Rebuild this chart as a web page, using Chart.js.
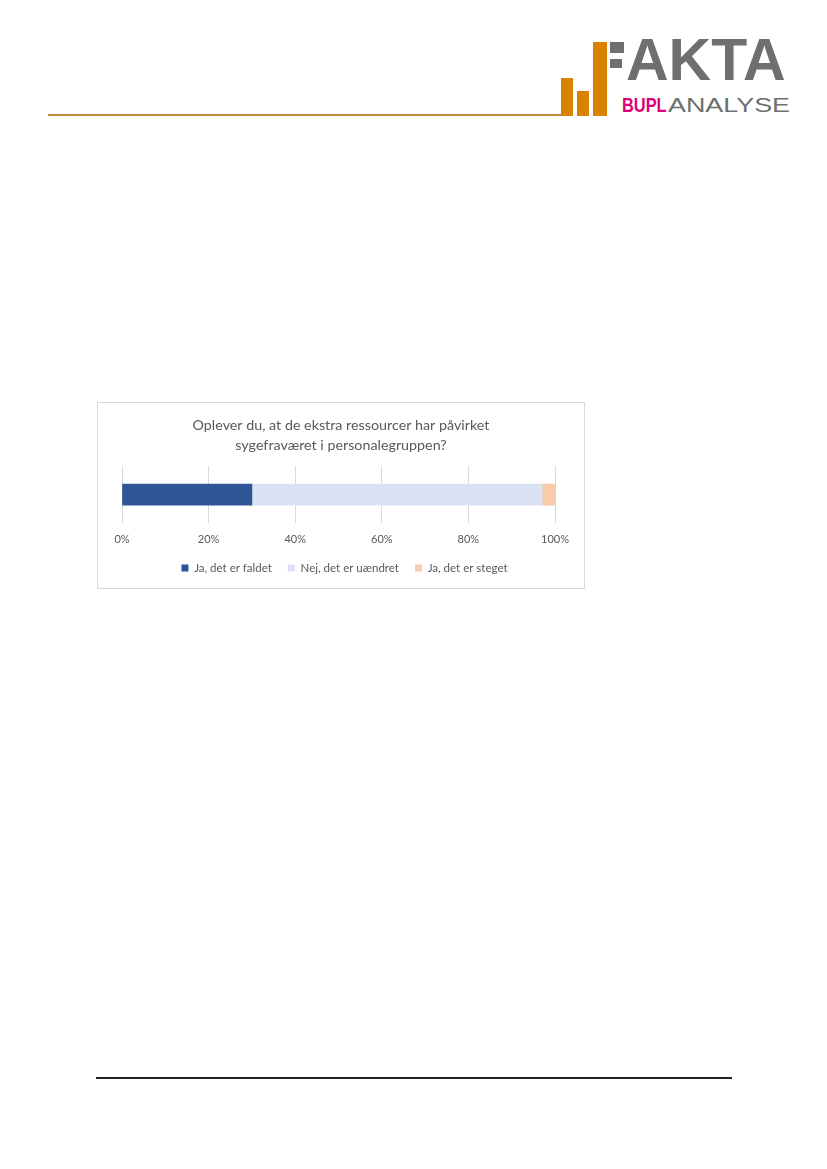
<!DOCTYPE html>
<html>
<head>
<meta charset="utf-8">
<script src="https://cdn.jsdelivr.net/npm/chart.js@4.4.1/dist/chart.umd.min.js"></script>
<style>
  body { margin: 0; background: #fff; width: 827px; height: 1169px; position: relative; overflow: hidden; font-family: "Liberation Sans", Arial, sans-serif; }
  .abs { position: absolute; }
  .bar { position: absolute; background: #d98200; }
  .blk { position: absolute; background: #6f6f6f; }
  #headline { left: 48px; top: 114px; width: 514px; height: 2px; background: #c4893c; }
  #footline { left: 96px; top: 1077px; width: 636px; height: 2px; background: #222; }
  #fakta { left: 626px; top: 31px; font-weight: bold; font-size: 59px; line-height: 1; color: #6f6f6f; }
  #bupl { left: 622px; top: 94px; font-weight: bold; font-size: 21px; line-height: 1; color: #e2007a; transform-origin: 0 0; transform: scaleX(0.78); }
  #analyse { left: 668px; top: 94px; font-size: 21px; line-height: 1; color: #6f6f6f; transform-origin: 0 0; transform: scaleX(1.28); }
  #box { position: absolute; left: 97px; top: 402px; width: 488px; height: 187px; border: 1px solid #d9d9d9; box-sizing: border-box; }
</style>
</head>
<body>
<div id="headline" class="abs"></div>
<div class="bar" style="left:561px;top:78px;width:12px;height:38px"></div>
<div class="bar" style="left:577px;top:91px;width:12px;height:25px"></div>
<div class="bar" style="left:593px;top:42px;width:14px;height:74px"></div>
<div class="blk" style="left:610px;top:42px;width:14px;height:11px"></div>
<div class="blk" style="left:610px;top:59px;width:12px;height:9px"></div>
<div id="fakta" class="abs">AKTA</div>
<div id="bupl" class="abs">BUPL</div>
<div id="analyse" class="abs">ANALYSE</div>

<div id="box"><canvas id="chart" width="486" height="185"></canvas></div>

<div id="footline" class="abs"></div>

<script>
// chart data
const categories = [""];
const seriesNames = ["Ja, det er faldet", "Nej, det er uændret", "Ja, det er steget"];
const faldet = [30];
const uaendret = [67];
const steget = [3];
const xTicks = [0, 20, 40, 60, 80, 100];
const titleLines = ["Oplever du, at de ekstra ressourcer har påvirket", "sygefraværet i personalegruppen?"];

const colors = ["#2f5597", "#dae3f3", "#f8cbad"];
const textColor = "#595959";
const fontFamily = "Lato, 'Liberation Sans', sans-serif";

// nudge title and legend a little to the right, like the Excel original
const nudgePlugin = {
  id: "nudge",
  afterLayout(chart) {
    chart.titleBlock.left += 2.5;
    chart.titleBlock.right += 2.5;
    chart.legend.left += 6;
    chart.legend.right += 6;
  },
};

const ctx = document.getElementById("chart").getContext("2d");
const chart = new Chart(ctx, {
  type: "bar",
  data: {
    labels: categories,
    datasets: [
      { label: seriesNames[0], data: faldet, backgroundColor: colors[0] },
      { label: seriesNames[1], data: uaendret, backgroundColor: colors[1] },
      { label: seriesNames[2], data: steget, backgroundColor: colors[2] },
    ],
  },
  plugins: [nudgePlugin],
  options: {
    indexAxis: "y",
    responsive: false,
    animation: false,
    barThickness: 21,
    layout: { padding: { left: 24, right: 29, top: 0, bottom: 4.25 } },
    scales: {
      x: {
        stacked: true,
        min: 0,
        max: 100,
        afterBuildTicks: (axis) => { axis.ticks = xTicks.map((v) => ({ value: v })); },
        afterFit: (axis) => { axis.height = 23.5; },
        ticks: {
          callback: (v) => v + "%",
          color: textColor,
          padding: 10.5,
          font: { family: fontFamily, size: 11 },
        },
        grid: { color: "#d9d9d9", drawTicks: false },
        border: { display: false },
      },
      y: {
        stacked: true,
        display: false,
      },
    },
    plugins: {
      title: {
        display: true,
        text: titleLines,
        color: textColor,
        font: { family: fontFamily, size: 14.3, weight: "normal", lineHeight: 1.35 },
        padding: { top: 13, bottom: 12 },
      },
      legend: {
        position: "bottom",
        labels: {
          boxWidth: 7,
          boxHeight: 7,
          color: textColor,
          padding: 16,
          font: { family: fontFamily, size: 11.5 },
        },
      },
      tooltip: { enabled: false },
    },
  },
});
</script>
</body>
</html>
